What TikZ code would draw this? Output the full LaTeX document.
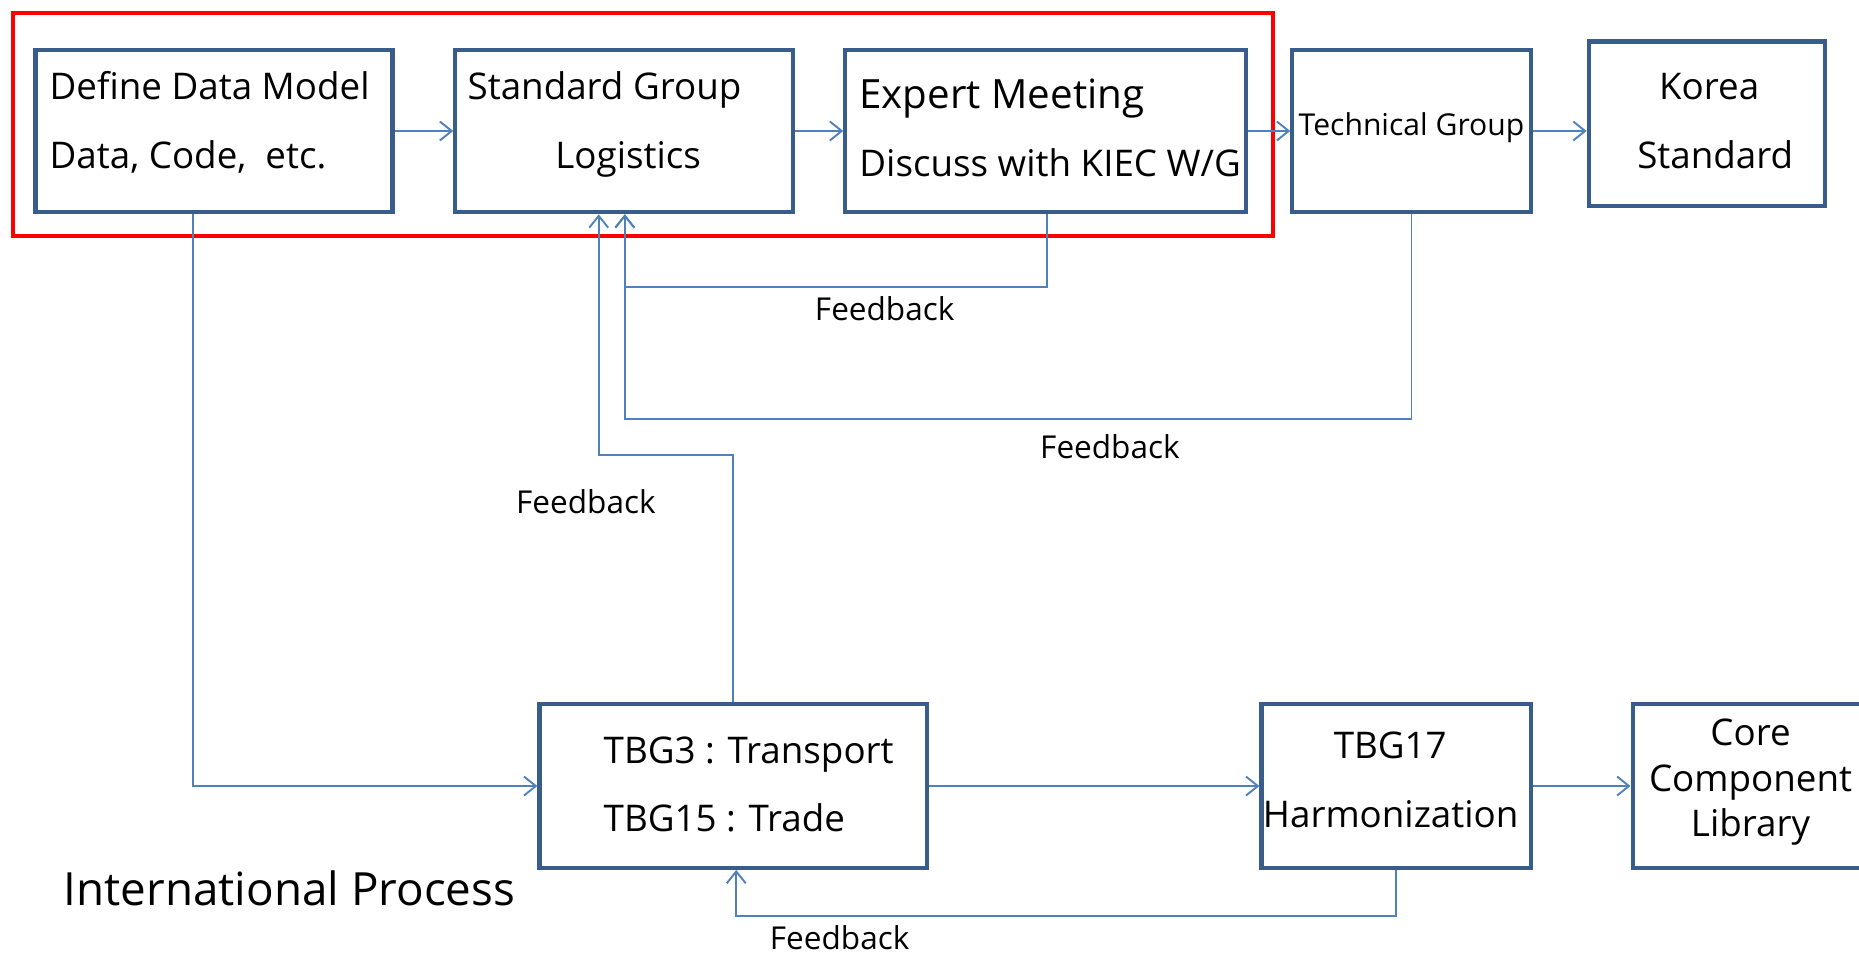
\documentclass[tikz,border=0pt]{standalone}
\usepackage{fontspec}
\setmainfont{Open Sans}
\usetikzlibrary{arrows.meta}
\definecolor{boxc}{HTML}{385D8A}
\definecolor{linec}{HTML}{4F81BD}
\begin{document}
\begin{tikzpicture}[x=0.5pt,y=-0.5pt,
  box/.style={draw=boxc, line width=1.75pt, rectangle, inner sep=0pt, fill=none},
  grpbox/.style={draw=red, line width=1.8pt, rectangle, inner sep=0pt},
  conn/.style={draw=linec, line width=0.8pt, -{Straight Barb[length=5pt,width=8pt]}},
  plain/.style={draw=linec, line width=0.8pt},
  txt/.style={inner sep=0pt, font=\fontsize{15.5}{18}\selectfont},
  bigtxt/.style={inner sep=0pt, font=\fontsize{17}{20}\selectfont},
  smalltxt/.style={inner sep=0pt, font=\fontsize{12.7}{15}\selectfont},
  fbtxt/.style={inner sep=0pt, font=\fontsize{13.3}{16}\selectfont},
  titletxt/.style={inner sep=0pt, font=\fontsize{19.3}{23}\selectfont}]
\clip (0,0) rectangle (1568,806);
\fill[white] (0,0) rectangle (1568,806);

% group frame
\node[grpbox, minimum width=531.5pt, minimum height=94pt] (grp) at (542.5,105) {};

% boxes
\node[box, minimum width=150.5pt, minimum height=68.5pt] (b1) at (180.5,110.5) {};
\node[box, minimum width=142.5pt, minimum height=68.5pt] (b2) at (526.5,110.5) {};
\node[box, minimum width=169pt, minimum height=68.5pt] (b3) at (882,110.5) {};
\node[box, minimum width=100.5pt, minimum height=68.5pt] (b4) at (1190.5,110.5) {};
\node[box, minimum width=99.5pt, minimum height=69.5pt] (b5) at (1439.5,104.5) {};
\node[box, minimum width=163.5pt, minimum height=69pt] (b6) at (618.5,663) {};
\node[box, minimum width=113.5pt, minimum height=69pt] (b7) at (1177.5,663) {};
\node[box, minimum width=116.5pt, minimum height=69pt] (b8) at (1493.5,663) {};

% texts
\node[txt, anchor=base west] (t1a) at (41.5,83.7) {Define Data Model};
\node[txt, anchor=base west] (t1b) at (41.5,142) {Data, Code,\ \ etc.};
\node[txt, anchor=base west] (t2a) at (394,83.7) {Standard Group};
\node[txt, anchor=base west] (t2b) at (468,142) {Logistics};
\node[bigtxt, anchor=base west] (t3a) at (724.5,91.4) {Expert Meeting};
\node[txt, anchor=base west] (t3b) at (724.5,149) {Discuss with KIEC W/G};
\node[smalltxt, anchor=base west] (t4) at (1095,114.7) {Technical Group};
\node[txt, anchor=base] (t5a) at (1441.6,83.7) {Korea};
\node[txt, anchor=base] (t5b) at (1446.7,142) {Standard};
\node[txt, anchor=base west] (t6a) at (508.8,643.7) {TBG3 : Transport};
\node[txt, anchor=base west] (t6b) at (508.8,701.5) {TBG15 : Trade};
\node[txt, anchor=base] (t7a) at (1172.6,640) {TBG17};
\node[txt, anchor=base] (t7b) at (1173,698) {Harmonization};
\node[txt, anchor=base] (t8a) at (1476.5,628.4) {Core};
\node[txt, anchor=base] (t8b) at (1476.5,667.7) {Component};
\node[txt, anchor=base] (t8c) at (1476.5,705.7) {Library};
\node[titletxt, anchor=base west] (title) at (53.5,764) {International Process};
\node[fbtxt, anchor=base west] (fb1) at (687,270) {Feedback};
\node[fbtxt, anchor=base west] (fb2) at (877,387) {Feedback};
\node[fbtxt, anchor=base west] (fb3) at (435,433) {Feedback};
\node[fbtxt, anchor=base west] (fb4) at (649,801) {Feedback};

% helper coordinates
\coordinate (x163) at (163,0);
\coordinate (x883) at (883,0);
\coordinate (x619) at (618.5,0);
\coordinate (f1) at (527,242);
\coordinate (f2) at (527,353.5);
\coordinate (f3) at (505,384);
\coordinate (f4) at (621,772.5);

% forward connectors
\draw[conn] (b1.east) -- (b2.west);
\draw[conn] (b2.east) -- (b3.west);
\draw[conn] (b3.east) -- (b4.west |- b3.east);
\draw[conn] (b4.east) -- (b5.west |- b4.east);
\draw[conn] (x163 |- b1.south) |- (b6.west);
\draw[conn] (b6.east) -- (b7.west);
\draw[conn] (b7.east) -- (b8.west);

% feedback connectors
\draw[conn] (x883 |- b3.south) |- (f1) -- (f1 |- b2.south);
\draw[conn] (b4.south) |- (f2) -- (f2 |- b2.south);
\draw[conn] (x619 |- b6.north) |- (f3) -- (f3 |- b2.south);
\draw[conn] (b7.south) |- (f4) -- (f4 |- b6.south);
\end{tikzpicture}
\end{document}
